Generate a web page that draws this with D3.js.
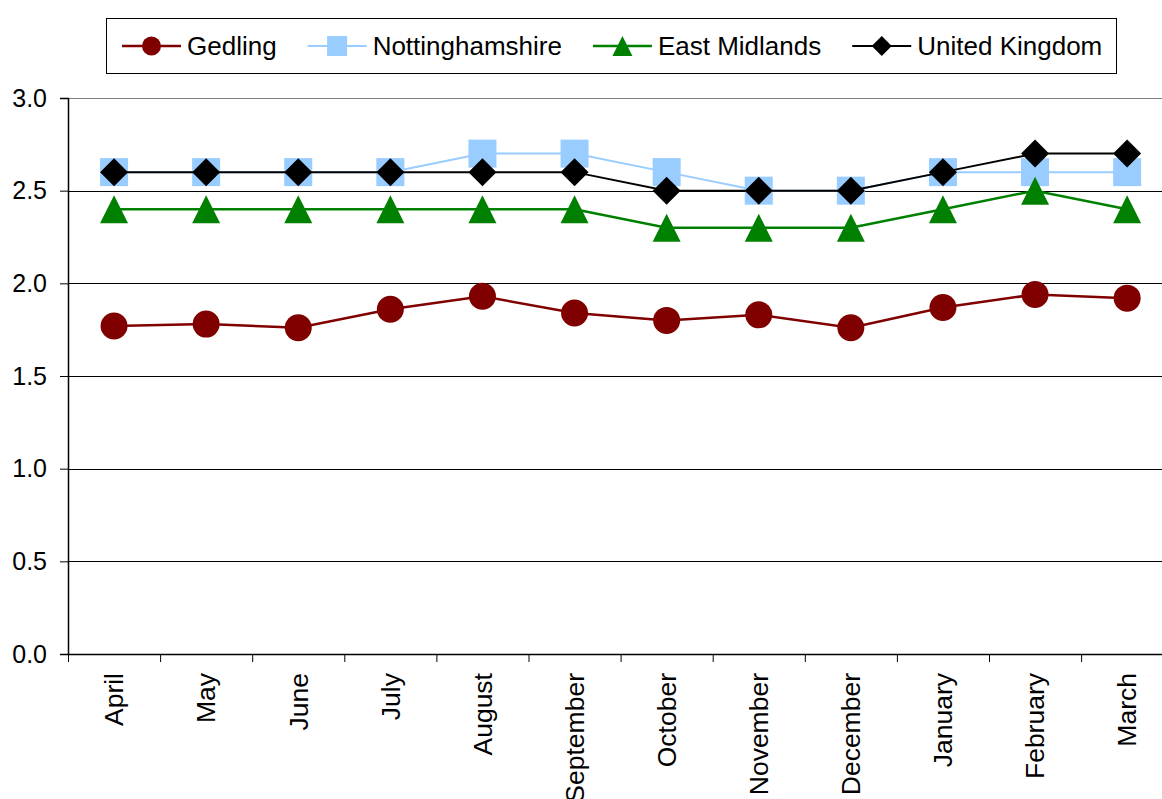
<!DOCTYPE html>
<html>
<head>
<meta charset="utf-8">
<script src="https://cdn.jsdelivr.net/npm/d3@7"></script>
<style>
  html, body { margin: 0; padding: 0; background: #fff; }
  svg { display: block; font-family: Arial, "Liberation Sans", sans-serif; }
</style>
</head>
<body>
<svg id="chart" width="1162" height="799"></svg>
<script>
// Monthly values per area
const months = ["April", "May", "June", "July", "August", "September", "October",
                "November", "December", "January", "February", "March"];
const gedling        = [1.77, 1.78, 1.76, 1.86, 1.93, 1.84, 1.80, 1.83, 1.76, 1.87, 1.94, 1.92];
const nottinghamshire = [2.6, 2.6, 2.6, 2.6, 2.7, 2.7, 2.6, 2.5, 2.5, 2.6, 2.6, 2.6];
const eastMidlands   = [2.4, 2.4, 2.4, 2.4, 2.4, 2.4, 2.3, 2.3, 2.3, 2.4, 2.5, 2.4];
const unitedKingdom  = [2.6, 2.6, 2.6, 2.6, 2.6, 2.6, 2.5, 2.5, 2.5, 2.6, 2.7, 2.7];
const yTicks = [0, 0.5, 1.0, 1.5, 2.0, 2.5, 3.0];

const series = [
  { name: "Gedling",         values: gedling,         color: "#800000", marker: "circle",   lw: 2.5 },
  { name: "Nottinghamshire", values: nottinghamshire, color: "#99CCFF", marker: "square",   lw: 2 },
  { name: "East Midlands",   values: eastMidlands,    color: "#008000", marker: "triangle", lw: 2.5 },
  { name: "United Kingdom",  values: unitedKingdom,   color: "#000000", marker: "diamond",  lw: 2 }
];

const svg = d3.select("#chart");
const plotLeft = 68, plotTop = 98, plotBottom = 654, step = 92.1;

const x = d3.scaleBand().domain(months).range([plotLeft, plotLeft + step * months.length]).padding(0);
const y = d3.scaleLinear().domain([0, 3]).range([plotBottom, plotTop]);
const cx = m => x(m) + x.bandwidth() / 2;

// Horizontal gridlines
svg.append("g")
  .selectAll("line")
  .data(yTicks.filter(t => t > 0))
  .join("line")
  .attr("x1", plotLeft).attr("x2", 1162)
  .attr("y1", d => Math.round(y(d)) + 0.5).attr("y2", d => Math.round(y(d)) + 0.5)
  .attr("stroke", d => d === 3 ? "#808080" : "#000")
  .attr("stroke-width", 1);

// Y axis
const yAxis = svg.append("g")
  .attr("transform", `translate(${plotLeft},0)`)
  .call(d3.axisLeft(y).tickValues(yTicks).tickFormat(d3.format(".1f")).tickSize(8).tickPadding(13));
yAxis.select(".domain").attr("stroke", "#000").attr("stroke-width", 1.5);
yAxis.selectAll(".tick line").attr("stroke", "#000");
yAxis.selectAll(".tick text").attr("font-size", 25).attr("fill", "#000")
  .attr("font-family", "Arial, 'Liberation Sans', sans-serif");

// X axis
const xAxis = svg.append("g")
  .attr("transform", `translate(0,${plotBottom})`)
  .call(d3.axisBottom(x).tickSize(0).tickSizeOuter(0));
xAxis.select(".domain").attr("stroke", "#000").attr("stroke-width", 1.5)
  .attr("d", `M${plotLeft},0.5H1162`);
xAxis.selectAll(".tick text")
  .attr("font-size", 26.5).attr("fill", "#000")
  .attr("font-family", "Arial, 'Liberation Sans', sans-serif")
  .attr("text-anchor", "end")
  .attr("dy", "0.35em")
  .attr("transform", "translate(0,19) rotate(-90)")
  .attr("x", 0).attr("y", 0);
// Category boundary ticks
svg.append("g")
  .selectAll("line")
  .data(months)
  .join("line")
  .attr("x1", d => x(d) + 0.5).attr("x2", d => x(d) + 0.5)
  .attr("y1", plotBottom).attr("y2", plotBottom + 8)
  .attr("stroke", "#000");

// Marker shapes
function drawMarker(g, type, color, size) {
  const h = size / 2;
  if (type === "circle") {
    g.append("circle").attr("r", h - 0.5).attr("fill", color);
  } else if (type === "square") {
    g.append("rect").attr("x", -h).attr("y", -h).attr("width", size).attr("height", size).attr("fill", color);
  } else if (type === "triangle") {
    g.append("path").attr("d", `M0,${-h}L${h},${h}L${-h},${h}Z`).attr("fill", color);
  } else if (type === "diamond") {
    g.append("path").attr("d", `M0,${-h}L${h},0L0,${h}L${-h},0Z`).attr("fill", color);
  }
}

// Series lines and markers
const line = d3.line().x((d, i) => cx(months[i])).y(d => y(d));
series.forEach(s => {
  const g = svg.append("g");
  g.append("path").datum(s.values)
    .attr("d", line).attr("fill", "none")
    .attr("stroke", s.color).attr("stroke-width", s.lw);
  s.values.forEach((v, i) => {
    const mg = g.append("g").attr("transform", `translate(${cx(months[i])},${y(v)})`);
    drawMarker(mg, s.marker, s.color, 28);
  });
});

// Legend
const legend = svg.append("g");
legend.append("rect")
  .attr("x", 106.5).attr("y", 18.5).attr("width", 1010).attr("height", 55)
  .attr("fill", "#fff").attr("stroke", "#000").attr("stroke-width", 1);
let lx = 122;
const ly = 46;
series.forEach(s => {
  const item = legend.append("g");
  item.append("line")
    .attr("x1", lx).attr("x2", lx + 59).attr("y1", ly).attr("y2", ly)
    .attr("stroke", s.color).attr("stroke-width", s.lw);
  const mg = item.append("g").attr("transform", `translate(${lx + 29.5},${ly})`);
  drawMarker(mg, s.marker, s.color, 20);
  const t = item.append("text")
    .attr("x", lx + 65).attr("y", ly).attr("dy", "0.35em")
    .attr("font-size", 26).attr("fill", "#000")
    .text(s.name);
  lx += 65 + t.node().getComputedTextLength() + 31;
});
</script>
</body>
</html>
